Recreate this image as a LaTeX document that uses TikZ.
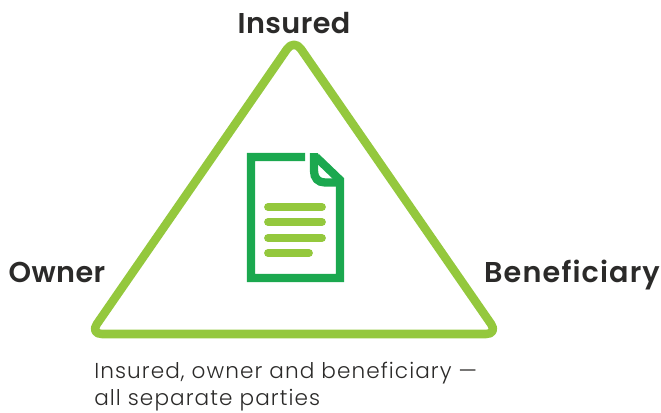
\documentclass[tikz,border=0pt]{standalone}
\usepackage{fontspec}
\setmainfont{Poppins}
\newfontfamily\labelfont[LetterSpace=1.5]{Poppins SemiBold}
\newfontfamily\widelabelfont[LetterSpace=4]{Poppins SemiBold}
\newfontfamily\notefont[LetterSpace=5]{Poppins Light}
\definecolor{limegreen}{RGB}{148,200,61}
\definecolor{docgreen}{RGB}{27,168,79}
\definecolor{inkgrey}{RGB}{43,42,41}
\tikzset{
  partylabel/.style={inner sep=0.75pt,text=inkgrey,anchor=base,font=\labelfont\fontsize{21.5}{24}\selectfont},
  notelabel/.style={inner sep=0.75pt,text=inkgrey,align=left,font=\notefont\fontsize{16.2}{20.5}\selectfont},
  textbar/.style={line width=5.8pt,limegreen,line cap=round}
}
\begin{document}
\begin{tikzpicture}[x=0.75pt,y=0.75pt,yscale=-1,xscale=1]
\useasboundingbox (0,0) rectangle (661,412);

%Triangle
\draw [limegreen,line width=6.4pt,rounded corners=9pt,line join=round] (294,39) -- (498,334) -- (90,334) -- cycle ;

%Document
\draw [docgreen,line width=6.2pt,line join=miter] (305,157) -- (251,157) -- (251,278) -- (340,278) -- (340,180) -- (316,157) ;
\draw [docgreen,line width=6.2pt] (314,153) -- (314,171) .. controls (314,178) and (318,182.5) .. (325,182.5) -- (340,182.5) ;

%Text lines
\draw [textbar] (268,207) -- (322,207) ;
\draw [textbar] (268,222) -- (322,222) ;
\draw [textbar] (268,238) -- (322,238) ;
\draw [textbar] (268,253) -- (309,253) ;

% Text Node
\node (insured) [partylabel] at (294,33) {Insured};
\node (owner) [partylabel] at (57,282) {Owner};
\node (beneficiary) [partylabel,font=\widelabelfont\fontsize{21.5}{24}\selectfont] at (572,282) {Beneficiary};
\node (note) [notelabel,anchor=north west] at (93,361) {Insured, owner and beneficiary —\\all separate parties};
\end{tikzpicture}
\end{document}
